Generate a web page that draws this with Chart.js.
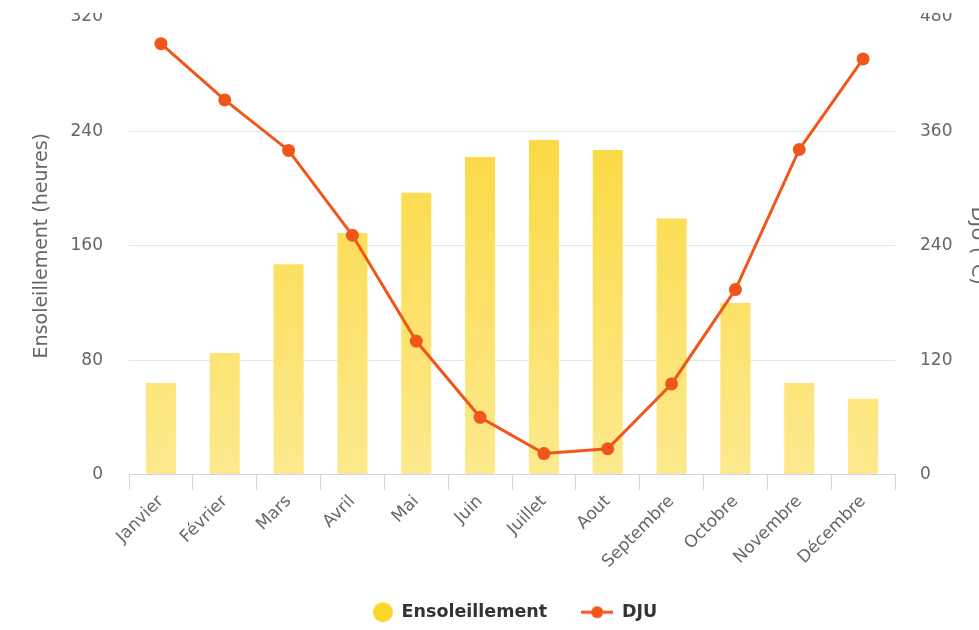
<!DOCTYPE html>
<html>
<head>
<meta charset="utf-8">
<script src="https://cdn.jsdelivr.net/npm/chart.js@4/dist/chart.umd.min.js"></script>
<style>
  html, body { margin: 0; padding: 0; background: #fff; overflow: hidden; }
  #wrap { position: absolute; left: 0; top: 13px; width: 979px; height: 617px; overflow: hidden; }
  #myChart { position: absolute; left: 0; top: -33px; }
</style>
</head>
<body>
<div id="wrap"><canvas id="myChart" width="991" height="651"></canvas></div>
<script>
'use strict';

let months = ['Janvier', 'Février', 'Mars', 'Avril', 'Mai', 'Juin',
  'Juillet', 'Aout', 'Septembre', 'Octobre', 'Novembre', 'Décembre'];
let sunHours = [64, 85, 147, 169, 197, 222, 234, 227, 179, 120, 64, 53];
let djuValues = [452, 393, 340, 251, 140, 60, 22, 27, 95, 194, 341, 436];
let sunTicks = [0, 80, 160, 240, 320];
let djuTicks = [0, 120, 240, 360, 480];

let font = 'DejaVu Sans';
let lineColor = '#f0561a';
let ctx = document.getElementById('myChart').getContext('2d');

// little canvases for the legend symbols (same width, circle pushed right)
function legendIcon(kind) {
  let c = document.createElement('canvas');
  c.width = 32;
  c.height = 22;
  let g = c.getContext('2d');
  if (kind === 'line') {
    g.strokeStyle = lineColor;
    g.lineWidth = 3;
    g.beginPath();
    g.moveTo(0, 11);
    g.lineTo(32, 11);
    g.stroke();
    g.fillStyle = lineColor;
    g.beginPath();
    g.arc(16, 11, 6, 0, Math.PI * 2);
    g.fill();
  } else {
    g.fillStyle = '#fbd72a';
    g.beginPath();
    g.arc(22, 11, 10, 0, Math.PI * 2);
    g.fill();
  }
  return c;
}
let icons = [legendIcon('circle'), legendIcon('line')];

function barGradient(context) {
  let area = context.chart.chartArea;
  if (!area) {
    return '#fbd72a';
  }
  let grad = context.chart.ctx.createLinearGradient(0, area.top, 0, area.bottom);
  grad.addColorStop(0, '#fad42a');
  grad.addColorStop(1, '#fde98e');
  return grad;
}

// no grid line on the first and last tick
function sunGrid(c) {
  if (!c.tick || c.tick.value === sunTicks[0] || c.tick.value === sunTicks[sunTicks.length - 1]) {
    return 'rgba(0,0,0,0)';
  }
  return '#e6e6e6';
}

new Chart(ctx, {
  type: 'bar',
  data: {
    labels: months,
    datasets: [{
      label: 'Ensoleillement',
      data: sunHours,
      yAxisID: 'ySun',
      backgroundColor: barGradient,
      categoryPercentage: 1,
      barPercentage: 0.47,
      order: 1
    }, {
      type: 'line',
      label: 'DJU',
      data: djuValues,
      yAxisID: 'yDju',
      borderColor: lineColor,
      backgroundColor: lineColor,
      borderWidth: 3,
      pointRadius: 6.5,
      pointBorderWidth: 0,
      tension: 0,
      order: 0
    }]
  },
  options: {
    responsive: false,
    animation: false,
    layout: { padding: { top: 37, left: 27, right: 0, bottom: 0 } },
    plugins: {
      tooltip: { enabled: false },
      legend: {
        position: 'bottom',
        labels: {
          usePointStyle: true,
          pointStyleWidth: 32,
          boxHeight: 16,
          padding: 34,
          color: '#333',
          font: { family: font, size: 17.5, weight: 'bold' },
          generateLabels: function (chart) {
            return chart.data.datasets.map(function (ds, i) {
              return {
                text: ds.label,
                pointStyle: icons[i],
                datasetIndex: i,
                fontColor: '#333',
                hidden: false,
                lineWidth: 0,
                strokeStyle: 'rgba(0,0,0,0)',
                fillStyle: 'rgba(0,0,0,0)'
              };
            });
          }
        }
      }
    },
    scales: {
      x: {
        offset: true,
        grid: {
          offset: true,
          drawOnChartArea: false,
          drawTicks: true,
          tickLength: 15,
          color: '#ccd6eb'
        },
        border: { color: '#ccd6eb', width: 1 },
        ticks: {
          color: '#666',
          font: { family: font, size: 17 },
          minRotation: 45,
          maxRotation: 45,
          autoSkip: false,
          padding: 2
        },
        afterFit: function (scale) { scale.height = 95; }
      },
      ySun: {
        position: 'left',
        min: sunTicks[0],
        max: sunTicks[sunTicks.length - 1],
        ticks: {
          stepSize: sunTicks[1] - sunTicks[0],
          color: '#666',
          font: { family: font, size: 17 },
          padding: 26
        },
        grid: { drawTicks: false, color: sunGrid },
        border: { display: false },
        title: {
          display: true,
          text: 'Ensoleillement (heures)',
          color: '#666',
          font: { family: font, size: 19 },
          padding: { top: 3.6, bottom: 0 }
        },
        afterFit: function (scale) { scale.width = 102; }
      },
      yDju: {
        position: 'right',
        min: djuTicks[0],
        max: djuTicks[djuTicks.length - 1],
        ticks: {
          stepSize: djuTicks[1] - djuTicks[0],
          color: '#666',
          font: { family: font, size: 17 },
          padding: 25
        },
        grid: { drawOnChartArea: false, drawTicks: false },
        border: { display: false },
        title: {
          display: true,
          text: 'DJU (°C)',
          color: '#666',
          font: { family: font, size: 19 },
          padding: { top: 2.6, bottom: 0 }
        },
        afterFit: function (scale) { scale.width = 96; }
      }
    }
  }
});
</script>
</body>
</html>
